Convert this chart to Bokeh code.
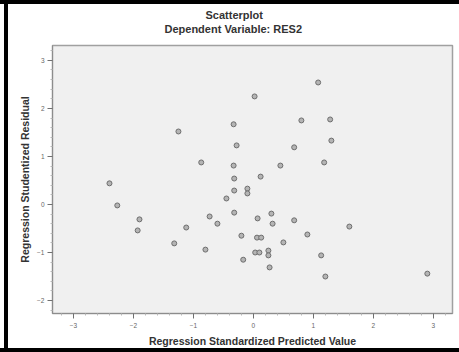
from bokeh.plotting import figure
from bokeh.models import Title, FixedTicker, ColumnDataSource, Range1d
from bokeh.embed import file_html
from bokeh.resources import INLINE

# Regression standardized predicted value (x) and studentized residual (y)
pred = [1.08, 0.02, -1.25, -0.33, 0.80, 1.28, -0.28, 1.30, 0.68, -0.87,
        -0.33, 1.18, 0.45, 0.12, -0.32, -2.40, -2.27, -1.90, -1.93, -1.12,
        -1.32, -0.80, -0.73, -0.60, -0.45, -0.32, -0.10, -0.10, -0.32, -0.20,
        -0.17, 0.07, 0.06, 0.13, 0.30, 0.32, 0.68, 0.50, 0.90, 1.60,
        0.03, 0.10, 0.25, 0.25, 0.27, 1.13, 1.20, 2.90]
resid = [2.54, 2.25, 1.52, 1.67, 1.75, 1.77, 1.23, 1.33, 1.19, 0.875,
         0.81, 0.875, 0.81, 0.58, 0.54, 0.44, -0.02, -0.31, -0.54, -0.48,
         -0.81, -0.94, -0.25, -0.40, 0.125, 0.29, 0.33, 0.23, -0.17, -0.65,
         -1.15, -0.29, -0.69, -0.69, -0.19, -0.40, -0.33, -0.79, -0.625, -0.46,
         -1.00, -1.00, -0.96, -1.06, -1.31, -1.06, -1.50, -1.44]

x_ticks = [-3, -2, -1, 0, 1, 2, 3]
y_ticks = [-2, -1, 0, 1, 2, 3]

title_main = "Scatterplot"
title_sub = "Dependent Variable: RES2"
x_label = "Regression Standardized Predicted Value"
y_label = "Regression Studentized Residual"

FONT = "Liberation Sans"

p = figure(width=459, height=352, output_backend="svg", toolbar_location=None,
           x_range=Range1d(-3.35, 3.32), y_range=Range1d(-2.27, 3.31),
           min_border_left=52, min_border_right=7, min_border_top=45,
           min_border_bottom=39)
p.title = None
p.styles = {"background-color": "white",
            "box-shadow": ("inset 0 4px 0 0 black, inset 0 -4px 0 0 black, "
                           "inset 4px 0 0 0 white, inset 8px 0 0 0 black")}

p.background_fill_color = "#f0f0f0"
p.border_fill_alpha = 0
p.outline_line_color = "#a0a0a0"
p.outline_line_width = 1.5
p.xgrid.visible = False
p.ygrid.visible = False

src = ColumnDataSource(dict(x=pred, y=resid))
p.scatter("x", "y", source=src, size=5, marker="circle",
          fill_color="#b4b4b4", line_color="#6e6e6e", line_width=1)

for ax, ticks in ((p.xaxis[0], x_ticks), (p.yaxis[0], y_ticks)):
    ax.ticker = FixedTicker(ticks=ticks, minor_ticks=[t + k * 0.2 for t in range(-4, 4) for k in range(1, 5)])
    ax.axis_line_color = "#8c8c8c"
    ax.major_tick_line_color = "#707070"
    ax.minor_tick_line_color = "#b8b8b8"
    ax.major_tick_out = 5
    ax.major_tick_in = 0
    ax.minor_tick_out = 2
    ax.minor_tick_in = 0
    ax.major_label_text_font = FONT
    ax.major_label_text_font_size = "6.5px"
    ax.major_label_text_color = "#666666"
    ax.axis_label_text_font = FONT
    ax.axis_label_text_font_style = "bold"
    ax.axis_label_text_font_size = "10.5px"
    ax.axis_label_text_color = "#333333"

p.xaxis.axis_label = x_label
p.yaxis.axis_label = y_label
p.xaxis.major_label_standoff = 4
p.yaxis.major_label_standoff = 3
p.xaxis.axis_label_standoff = 4
p.yaxis.axis_label_standoff = 3

# spacer between frame and subtitle
p.add_layout(Title(text=" ", standoff=6, text_font_size="2px"), "above")
p.add_layout(Title(text=title_sub, align="left", offset=112, standoff=0,
                   vertical_align="middle", text_font=FONT, text_font_style="bold",
                   text_font_size="11px", text_color="#333333"), "above")
p.add_layout(Title(text=title_main, align="left", offset=153, standoff=0,
                   vertical_align="middle", text_font=FONT, text_font_style="bold",
                   text_font_size="11px", text_color="#333333"), "above")

open("out.html", "w").write(file_html(p, INLINE))
